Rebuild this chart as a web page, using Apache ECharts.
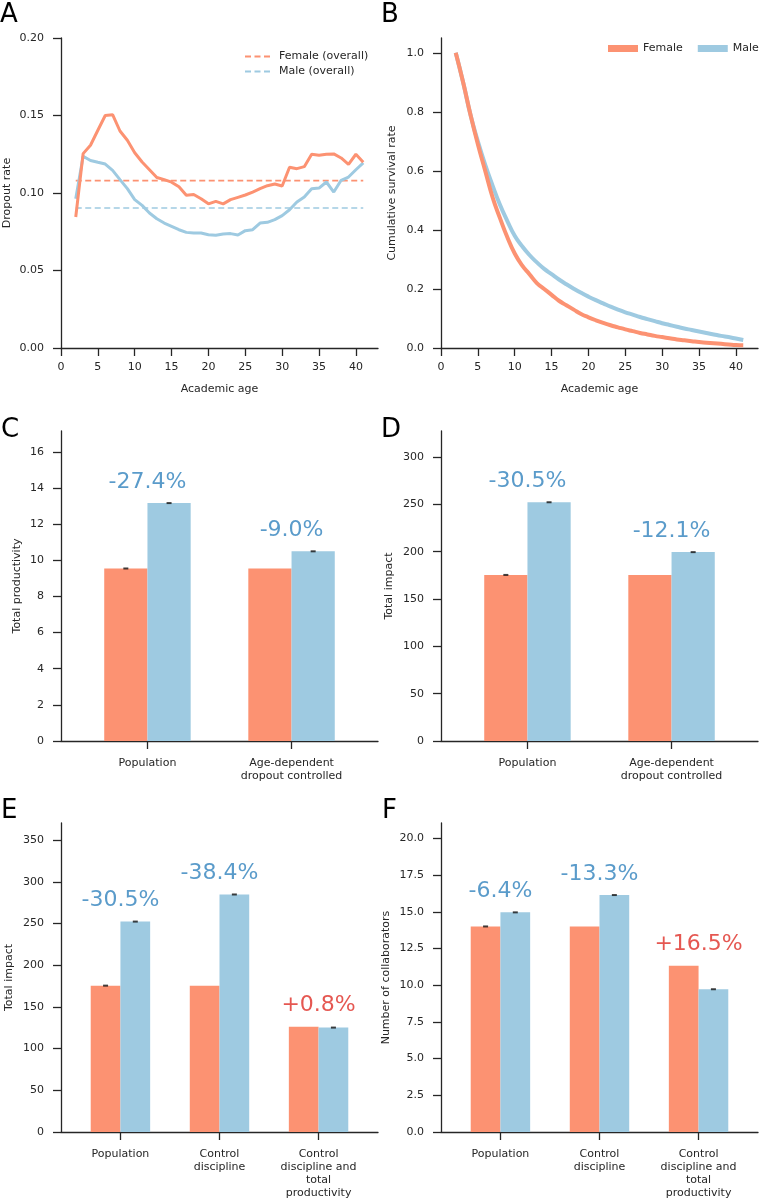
<!DOCTYPE html>
<html>
<head>
<meta charset="utf-8">
<script src="https://cdn.jsdelivr.net/npm/echarts@6/dist/echarts.min.js"></script>
<style>
html,body{margin:0;padding:0;background:#fff;}
#chart{width:761px;height:1200px;}
</style>
</head>
<body>
<div id="chart"></div>
<script>
// ---------------- DATA ----------------
const academicAge = [2,3,4,5,6,7,8,9,10,11,12,13,14,15,16,17,18,19,20,21,22,23,24,25,26,27,28,29,30,31,32,33,34,35,36,37,38,39,40,41];
const femaleDropout = [0.0845,0.1254,0.1308,0.1405,0.150,0.1505,0.140,0.134,0.126,0.120,0.115,0.110,0.1086,0.107,0.104,0.0985,0.099,0.0963,0.093,0.0946,0.093,0.0957,0.0972,0.0987,0.1006,0.1028,0.1047,0.1058,0.1045,0.1166,0.1157,0.117,0.125,0.1243,0.125,0.1252,0.1226,0.1185,0.125,0.1198];
const maleDropout = [0.0963,0.1237,0.121,0.1198,0.1187,0.1146,0.1086,0.1028,0.0957,0.092,0.0871,0.0834,0.0806,0.0785,0.0763,0.0746,0.0742,0.0742,0.0731,0.0727,0.0735,0.0738,0.0729,0.0757,0.0763,0.0806,0.0811,0.0828,0.0854,0.0892,0.0942,0.0974,0.1028,0.1032,0.1071,0.1006,0.1082,0.1103,0.115,0.1194];
const femaleOverall = 0.108;
const maleOverall = 0.0903;
const femaleSurvival = [1.0,0.90,0.79,0.69,0.60,0.51,0.44,0.375,0.32,0.28,0.25,0.22,0.20,0.18,0.16,0.145,0.13,0.115,0.104,0.094,0.085,0.077,0.070,0.063,0.057,0.051,0.046,0.041,0.037,0.033,0.029,0.026,0.023,0.020,0.018,0.016,0.014,0.012,0.010,0.009];
const maleSurvival = [1.0,0.90,0.79,0.70,0.62,0.55,0.485,0.43,0.38,0.345,0.315,0.29,0.268,0.25,0.232,0.216,0.201,0.187,0.174,0.162,0.151,0.140,0.130,0.121,0.113,0.105,0.098,0.091,0.084,0.078,0.072,0.066,0.061,0.056,0.051,0.046,0.041,0.037,0.032,0.027];

const catsCD = ['Population', 'Age-dependent\ndropout controlled'];
const catsEF = ['Population', 'Control\ndiscipline', 'Control\ndiscipline and\ntotal\nproductivity'];

const prodFemaleC = [9.55, 9.55];
const prodMaleC = [13.17, 10.5];
const pctC = ['-27.4%', '-9.0%'];
const capFemaleC = [true, false];
const capMaleC = [true, true];

const impactFemaleD = [175.5, 175.5];
const impactMaleD = [252.3, 199.6];
const pctD = ['-30.5%', '-12.1%'];
const capFemaleD = [true, false];
const capMaleD = [true, true];

const impactFemaleE = [175.5, 175.5, 126.2];
const impactMaleE = [252.3, 284.8, 125.2];
const pctE = ['-30.5%', '-38.4%', '+0.8%'];
const capFemaleE = [true, false, false];
const capMaleE = [true, true, true];

const collabFemaleF = [14.01, 14.0, 11.33];
const collabMaleF = [14.97, 16.15, 9.73];
const pctF = ['-6.4%', '-13.3%', '+16.5%'];
const capFemaleF = [true, false, false];
const capMaleF = [true, true, true];

const ticksA_x = [0,5,10,15,20,25,30,35,40];
const ticksA_y = [0,0.05,0.10,0.15,0.20];
const ticksB_y = [0,0.2,0.4,0.6,0.8,1.0];
const ticksC_y = [0,2,4,6,8,10,12,14,16];
const ticksD_y = [0,50,100,150,200,250,300];
const ticksE_y = [0,50,100,150,200,250,300,350];
const ticksF_y = [0,2.5,5,7.5,10,12.5,15,17.5,20];

// ---------------- STYLE ----------------
const FONT = 'DejaVu Sans';
const INK = '#262626';
const RED = '#fc9272';
const BLUE = '#9ecae1';
const PCT_NEG = '#3182bd';
const PCT_POS = '#de2d26';
const BAR_W = 0.3;
const DASH_ICON = 'path://M0,0h6v2h-6z M9.5,0h6v2h-6z M19,0h6v2h-6z';

const grids = [
  {left: 61, top: 38, width: 317, height: 310},
  {left: 441, top: 38, width: 317, height: 310},
  {left: 61, top: 431, width: 317, height: 310},
  {left: 441, top: 431, width: 317, height: 310},
  {left: 61, top: 823, width: 317, height: 310},
  {left: 441, top: 823, width: 317, height: 310}
];

function axisBase() {
  return {
    axisLine: {show: true, onZero: false, lineStyle: {color: INK, width: 1.3}},
    axisTick: {show: true, inside: false, length: 8, lineStyle: {color: INK, width: 1.3}},
    splitLine: {show: false},
    nameTextStyle: {fontFamily: FONT, fontSize: 11, color: INK},
  };
}
function xVal(gi, min, max, ticks, fmt, name) {
  const a = axisBase();
  return Object.assign(a, {
    type: 'value', gridIndex: gi, min: min, max: max,
    name: name || '', nameLocation: 'middle', nameGap: 36,
    axisTick: Object.assign(a.axisTick, {customValues: ticks}),
    axisLabel: {customValues: ticks, formatter: fmt, fontFamily: FONT, fontSize: 11, color: INK, margin: 13, lineHeight: 13}
  });
}
function yVal(gi, max, ticks, fmt, name, gap) {
  const a = axisBase();
  return Object.assign(a, {
    type: 'value', gridIndex: gi, min: 0, max: max,
    name: name, nameLocation: 'middle', nameGap: gap,
    axisTick: Object.assign(a.axisTick, {customValues: ticks}),
    axisLabel: {customValues: ticks, formatter: fmt, fontFamily: FONT, fontSize: 11, color: INK, margin: 17}
  });
}

const xAxes = [
  xVal(0, 0, 43, ticksA_x, v => String(v), 'Academic age'),
  xVal(1, 0, 43, ticksA_x, v => String(v), 'Academic age'),
  xVal(2, -0.6, 1.6, [0,1], v => catsCD[Math.round(v)], ''),
  xVal(3, -0.6, 1.6, [0,1], v => catsCD[Math.round(v)], ''),
  xVal(4, -0.6, 2.6, [0,1,2], v => catsEF[Math.round(v)], ''),
  xVal(5, -0.6, 2.6, [0,1,2], v => catsEF[Math.round(v)], '')
];
xAxes.slice(2).forEach(a => { a.axisLabel.margin = 16; });

const yAxes = [
  yVal(0, 0.2, ticksA_y, v => v.toFixed(2), 'Dropout rate', 48),
  yVal(1, 1.05, ticksB_y, v => v.toFixed(1), 'Cumulative survival rate', 43),
  yVal(2, 17.16, ticksC_y, v => String(v), 'Total productivity', 38),
  yVal(3, 327.6, ticksD_y, v => String(v), 'Total impact', 46),
  yVal(4, 370.5, ticksE_y, v => String(v), 'Total impact', 46),
  yVal(5, 21.06, ticksF_y, v => v.toFixed(1), 'Number of collaborators', 49)
];

const series = [];
// Panel A
series.push({name: 'Female (overall)', type: 'line', xAxisIndex: 0, yAxisIndex: 0, symbol: 'none', color: RED,
  itemStyle: {color: RED}, lineStyle: {width: 1.6, type: [6, 3.5], color: RED},
  data: [[academicAge[0], femaleOverall], [academicAge[academicAge.length-1], femaleOverall]]});
series.push({name: 'Male (overall)', type: 'line', xAxisIndex: 0, yAxisIndex: 0, symbol: 'none', color: BLUE,
  itemStyle: {color: BLUE}, lineStyle: {width: 1.6, type: [6, 3.5], color: BLUE},
  data: [[academicAge[0], maleOverall], [academicAge[academicAge.length-1], maleOverall]]});
series.push({name: 'Male dropout', type: 'line', xAxisIndex: 0, yAxisIndex: 0, symbol: 'none', color: BLUE,
  lineStyle: {width: 3, color: BLUE}, data: academicAge.map((a, i) => [a, maleDropout[i]])});
series.push({name: 'Female dropout', type: 'line', xAxisIndex: 0, yAxisIndex: 0, symbol: 'none', color: RED,
  lineStyle: {width: 3, color: RED}, data: academicAge.map((a, i) => [a, femaleDropout[i]])});
// Panel B
series.push({name: 'Male', type: 'line', xAxisIndex: 1, yAxisIndex: 1, symbol: 'none', smooth: true, color: BLUE,
  itemStyle: {color: BLUE}, lineStyle: {width: 4, color: BLUE}, data: academicAge.map((a, i) => [a, maleSurvival[i]])});
series.push({name: 'Female', type: 'line', xAxisIndex: 1, yAxisIndex: 1, symbol: 'none', smooth: true, color: RED,
  itemStyle: {color: RED}, lineStyle: {width: 4, color: RED}, data: academicAge.map((a, i) => [a, femaleSurvival[i]])});

function barPanel(gi, fem, mal, pct, capF, capM) {
  series.push({name: 'F' + gi, type: 'bar', xAxisIndex: gi, yAxisIndex: gi, barWidth: (BAR_W * 100) + '%', barGap: '0%',
    itemStyle: {color: RED}, data: fem.map((v, i) => [i, v])});
  series.push({name: 'M' + gi, type: 'bar', xAxisIndex: gi, yAxisIndex: gi, barWidth: (BAR_W * 100) + '%', barGap: '0%',
    itemStyle: {color: BLUE}, data: mal.map((v, i) => [i, v])});
  const caps = [];
  fem.forEach((v, i) => { if (capF[i]) caps.push([i - BAR_W / 2, v]); });
  mal.forEach((v, i) => { if (capM[i]) caps.push([i + BAR_W / 2, v]); });
  series.push({name: 'err' + gi, type: 'scatter', xAxisIndex: gi, yAxisIndex: gi, symbol: 'rect', symbolSize: [5, 2],
    itemStyle: {color: '#111'}, silent: true, z: 5, data: caps});
  series.push({name: 'pct' + gi, type: 'scatter', xAxisIndex: gi, yAxisIndex: gi, symbolSize: 0, silent: true, z: 6,
    data: pct.map((p, i) => ({value: [i, Math.max(fem[i], mal[i])],
      label: {show: true, position: 'top', distance: 10, formatter: p,
        color: p.charAt(0) === '+' ? PCT_POS : PCT_NEG, fontFamily: FONT, fontSize: 22}}))});
}
barPanel(2, prodFemaleC, prodMaleC, pctC, capFemaleC, capMaleC);
barPanel(3, impactFemaleD, impactMaleD, pctD, capFemaleD, capMaleD);
barPanel(4, impactFemaleE, impactMaleE, pctE, capFemaleE, capMaleE);
barPanel(5, collabFemaleF, collabMaleF, pctF, capFemaleF, capMaleF);

const letters = [['A', 0, 15], ['B', 381, 15], ['C', 1, 430], ['D', 381, 430], ['E', 1, 811], ['F', 382, 811]];

const option = {
  animation: false,
  backgroundColor: '#fff',
  grid: grids,
  xAxis: xAxes,
  yAxis: yAxes,
  legend: [
    {data: [{name: 'Female (overall)', icon: DASH_ICON}, {name: 'Male (overall)', icon: DASH_ICON}],
      orient: 'vertical', left: 240, top: 46, width: 200,
      itemWidth: 25, itemHeight: 2, itemGap: 4, selectedMode: false,
      textStyle: {fontFamily: FONT, fontSize: 11, color: INK, padding: [0, 0, 0, 4]}},
    {data: ['Female', 'Male'], orient: 'horizontal', left: 603, top: 38, width: 300, icon: 'rect',
      itemWidth: 30, itemHeight: 7, itemGap: 15, selectedMode: false,
      textStyle: {fontFamily: FONT, fontSize: 11, color: INK, padding: [0, 0, 0, 0]}}
  ],
  graphic: letters.map(l => ({type: 'text', left: l[1], top: l[2] - 13,
    style: {text: l[0], fontFamily: FONT, fontSize: 26, fill: '#000'}})),
  series: series
};

const chart = echarts.init(document.getElementById('chart'), null, {renderer: 'canvas', width: 761, height: 1200});
chart.setOption(option);
</script>
</body>
</html>
